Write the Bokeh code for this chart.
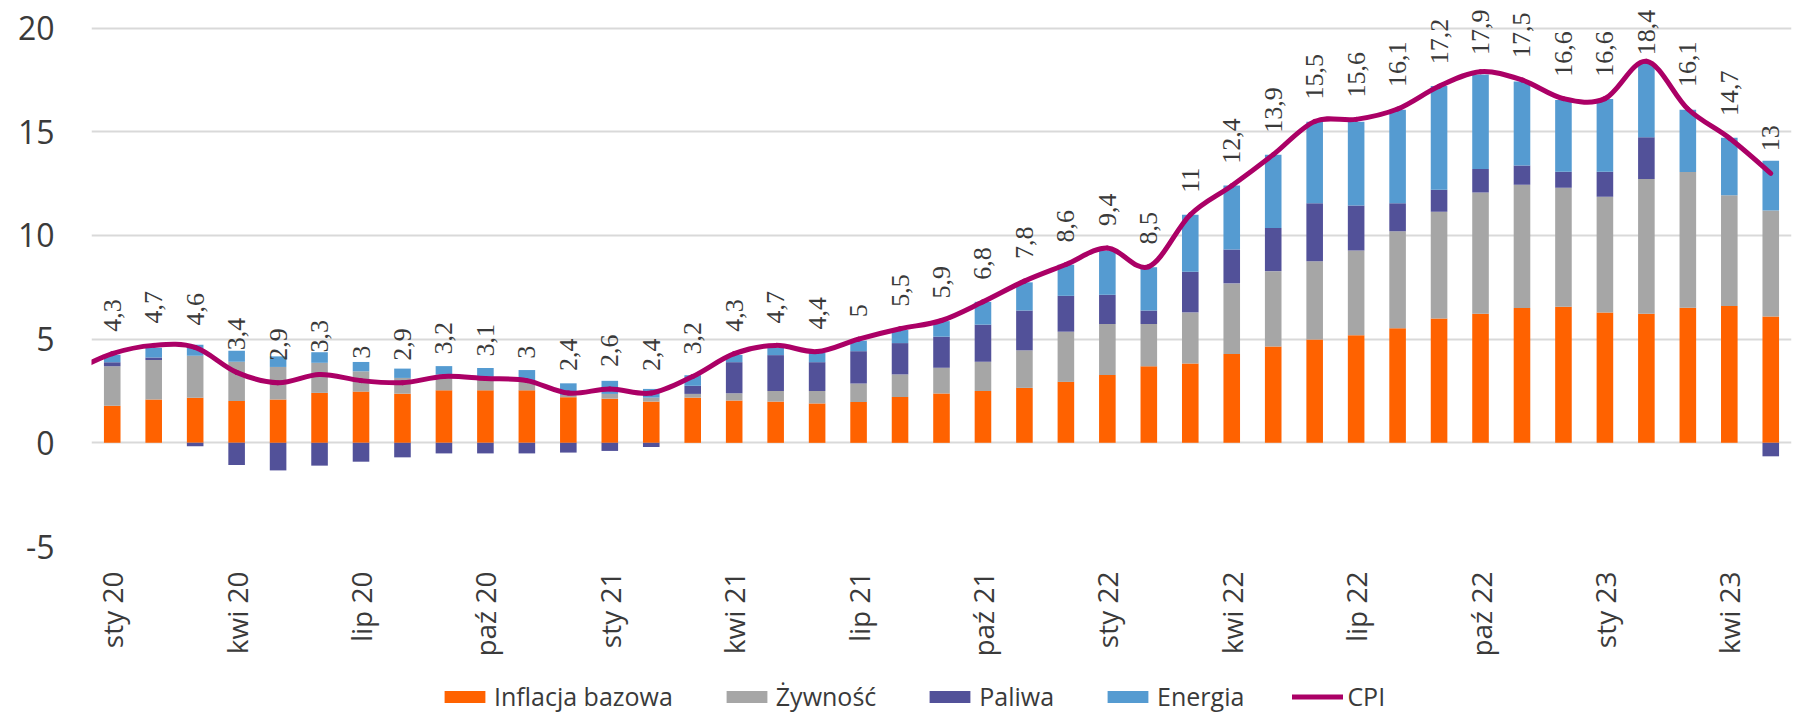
import math
from bokeh.plotting import figure
from bokeh.layouts import column
from bokeh.models import Range1d, FixedTicker, ColumnDataSource, LabelSet, Legend, LegendItem
from bokeh.embed import file_html
from bokeh.resources import INLINE

# ---- data ----
months = ["sty 20", "lut 20", "mar 20", "kwi 20", "maj 20", "cze 20", "lip 20", "sie 20", "wrz 20", "paź 20", "lis 20", "gru 20",
          "sty 21", "lut 21", "mar 21", "kwi 21", "maj 21", "cze 21", "lip 21", "sie 21", "wrz 21", "paź 21", "lis 21", "gru 21",
          "sty 22", "lut 22", "mar 22", "kwi 22", "maj 22", "cze 22", "lip 22", "sie 22", "wrz 22", "paź 22", "lis 22", "gru 22",
          "sty 23", "lut 23", "mar 23", "kwi 23", "maj 23"]
tick_labels = ["sty 20", "kwi 20", "lip 20", "paź 20", "sty 21", "kwi 21", "lip 21", "paź 21",
               "sty 22", "kwi 22", "lip 22", "paź 22", "sty 23", "kwi 23"]
y_ticks = [-5, 0, 5, 10, 15, 20]
y_tick_labels = ["-5", "0", "5", "10", "15", "20"]

core = [1.79, 2.09, 2.18, 2.02, 2.09, 2.41, 2.47, 2.37, 2.53, 2.53,
        2.53, 2.20, 2.13, 1.99, 2.18, 2.04, 1.99, 1.90, 1.97, 2.21,
        2.38, 2.50, 2.65, 2.94, 3.27, 3.69, 3.83, 4.29, 4.64, 4.98,
        5.19, 5.53, 6.00, 6.22, 6.50, 6.56, 6.29, 6.22, 6.51, 6.60, 6.09]
food = [1.90, 1.91, 2.02, 1.89, 1.57, 1.45, 0.98, 0.76, 0.76, 0.65,
        0.45, 0.11, 0.23, 0.19, 0.18, 0.35, 0.51, 0.60, 0.89, 1.09,
        1.24, 1.41, 1.81, 2.42, 2.46, 2.04, 2.46, 3.40, 3.64, 3.78,
        4.08, 4.67, 5.14, 5.85, 5.95, 5.74, 5.58, 6.50, 6.55, 5.34, 5.12]
fuel = [0.20, 0.12, -0.17, -1.07, -1.33, -1.10, -0.91, -0.70, -0.51, -0.51,
        -0.51, -0.47, -0.39, -0.20, 0.39, 1.50, 1.73, 1.39, 1.56, 1.51,
        1.50, 1.79, 1.92, 1.73, 1.41, 0.65, 1.96, 1.63, 2.08, 2.79,
        2.18, 1.35, 1.07, 1.14, 0.92, 0.78, 1.21, 2.02, 0.00, 0.00, -0.65]
energy = [0.36, 0.47, 0.53, 0.53, 0.51, 0.51, 0.45, 0.45, 0.41, 0.43,
          0.53, 0.56, 0.63, 0.42, 0.51, 0.35, 0.36, 0.45, 0.51, 0.63,
          0.75, 1.10, 1.36, 1.50, 2.13, 2.09, 2.75, 3.09, 3.53, 3.93,
          4.03, 4.52, 5.00, 4.56, 4.06, 3.45, 3.50, 3.58, 3.01, 2.77, 2.40]
cpi = [4.3, 4.7, 4.6, 3.4, 2.9, 3.3, 3.0, 2.9, 3.2, 3.1, 3.0, 2.4, 2.6, 2.4, 3.2, 4.3, 4.7, 4.4, 5.0, 5.5,
       5.9, 6.8, 7.8, 8.6, 9.4, 8.5, 11.0, 12.4, 13.9, 15.5, 15.6, 16.1, 17.2, 17.9, 17.5, 16.6, 16.6, 18.4,
       16.1, 14.7, 13.0]
cpi_dec19 = 3.4  # previous month, line enters from the left edge

series_names = ["Inflacja bazowa", "Żywność", "Paliwa", "Energia"]
series_colors = ["#FF6200", "#A6A6A6", "#525199", "#559BD1"]
CPI_COLOR = "#AB0066"

TEXT = "#3a3a3a"
FONT = "Open Sans"

n = len(months)
xs = list(range(n))

FRAME_H = 553
Y_MIN = -5
Y_MAX = Y_MIN + FRAME_H / 21.0
MAIN_H = 659

# ---------------- main chart ----------------
p = figure(width=1797, height=MAIN_H, output_backend="svg", toolbar_location=None,
           x_range=Range1d(-0.5, n - 0.5), y_range=Range1d(Y_MIN, Y_MAX),
           min_border_left=91, min_border_right=6, min_border_top=0, min_border_bottom=MAIN_H - FRAME_H)
p.outline_line_color = None
p.background_fill_color = "white"
p.border_fill_color = "white"

p.xgrid.visible = False
p.ygrid.grid_line_color = "#d9d9d9"
p.ygrid.grid_line_width = 2
p.ygrid.ticker = FixedTicker(ticks=y_ticks)

p.yaxis.ticker = FixedTicker(ticks=y_ticks)
p.yaxis.major_label_overrides = {t: l for t, l in zip(y_ticks, y_tick_labels)}
p.yaxis.axis_line_color = None
p.yaxis.major_tick_line_color = None
p.yaxis.minor_tick_line_color = None
p.yaxis.major_label_text_font = FONT
p.yaxis.major_label_text_font_size = "32px"
p.yaxis.major_label_text_color = TEXT
p.yaxis.major_label_standoff = 31

tick_pos = [months.index(t) for t in tick_labels]
p.xaxis.ticker = FixedTicker(ticks=tick_pos)
p.xaxis.major_label_overrides = {i: t for i, t in zip(tick_pos, tick_labels)}
p.xaxis.major_label_orientation = math.pi / 2
p.xaxis.axis_line_color = None
p.xaxis.major_tick_line_color = None
p.xaxis.minor_tick_line_color = None
p.xaxis.major_label_text_font = FONT
p.xaxis.major_label_text_font_size = "28px"
p.xaxis.major_label_text_color = TEXT
p.xaxis.major_label_standoff = 19

# stacked bars (positives up, negatives down)
pos_base = [0.0] * n
neg_base = [0.0] * n
for vals, color in zip([core, food, fuel, energy], series_colors):
    bottoms, tops = [], []
    for i, v in enumerate(vals):
        if v >= 0:
            bottoms.append(pos_base[i]); tops.append(pos_base[i] + v); pos_base[i] += v
        else:
            bottoms.append(neg_base[i] + v); tops.append(neg_base[i]); neg_base[i] += v
    src = ColumnDataSource(dict(x=xs, bottom=bottoms, top=tops))
    p.vbar(x="x", bottom="bottom", top="top", width=0.4, source=src,
           fill_color=color, line_color=None)

# smoothed CPI line (cubic Bezier segments through the data points)
lx = [-1] + xs
ly = [cpi_dec19] + cpi
m = len(lx)
seg = dict(x0=[], y0=[], x1=[], y1=[], cx0=[], cy0=[], cx1=[], cy1=[])
for i in range(m - 1):
    a = max(i - 1, 0)
    b = min(i + 2, m - 1)
    seg["x0"].append(lx[i]); seg["y0"].append(ly[i])
    seg["x1"].append(lx[i + 1]); seg["y1"].append(ly[i + 1])
    seg["cx0"].append(lx[i] + (lx[i + 1] - lx[a]) / 6.0)
    seg["cy0"].append(ly[i] + (ly[i + 1] - ly[a]) / 6.0)
    seg["cx1"].append(lx[i + 1] - (lx[b] - lx[i]) / 6.0)
    seg["cy1"].append(ly[i + 1] - (ly[b] - ly[i]) / 6.0)
p.bezier(source=ColumnDataSource(seg), x0="x0", y0="y0", x1="x1", y1="y1",
         cx0="cx0", cy0="cy0", cx1="cx1", cy1="cy1",
         line_color=CPI_COLOR, line_width=5, line_cap="round")

# data labels: above the line; pushed down when they would leave the chart (as Excel does)
texts = [("%g" % v).replace(".", ",") for v in cpi]
ppu = FRAME_H / (Y_MAX - Y_MIN)
offs = []
for v, t in zip(cpi, texts):
    est_len = sum(7 if ch == "," else 14.5 for ch in t)
    room = (Y_MAX - v) * ppu - est_len - 5
    offs.append(max(2, min(22, room)))
lab_src = ColumnDataSource(dict(x=xs, y=cpi, t=texts, off=offs))
labels = LabelSet(x="x", y="y", text="t", source=lab_src, angle=math.pi / 2,
                  text_align="left", text_baseline="middle", y_offset="off",
                  text_font=FONT, text_font_size="26px", text_color=TEXT)
p.add_layout(labels)

# ---------------- legend strip ----------------
LG_H = 54
lg = figure(width=1797, height=LG_H, output_backend="svg", toolbar_location=None,
            x_range=Range1d(0, 1), y_range=Range1d(0, 1), x_axis_type=None, y_axis_type=None,
            min_border_left=0, min_border_right=0, min_border_top=0, min_border_bottom=0)
lg.outline_line_color = None
lg.xgrid.visible = False
lg.ygrid.visible = False
nan = float("nan")
items = []
for name, color in zip(series_names, series_colors):
    # proxy renderer that only feeds the legend (no drawable data)
    r = lg.vbar(x=[nan], top=[nan], width=0.4, fill_color=color, line_color=None)
    items.append(LegendItem(label=name, renderers=[r]))
rl = lg.line(x=[nan, nan], y=[nan, nan], line_color=CPI_COLOR, line_width=5, line_cap="round")
items.append(LegendItem(label="CPI", renderers=[rl]))
legend = Legend(items=items, orientation="horizontal", location=(348, 0),
                glyph_width=51, glyph_height=15, label_standoff=4, spacing=48,
                label_text_font=FONT, label_text_font_size="25px", label_text_color=TEXT,
                border_line_color=None, background_fill_alpha=0, padding=0, margin=0)
lg.add_layout(legend)

layout = column(p, lg, spacing=0)
open("out.html", "w").write(file_html(layout, INLINE))
